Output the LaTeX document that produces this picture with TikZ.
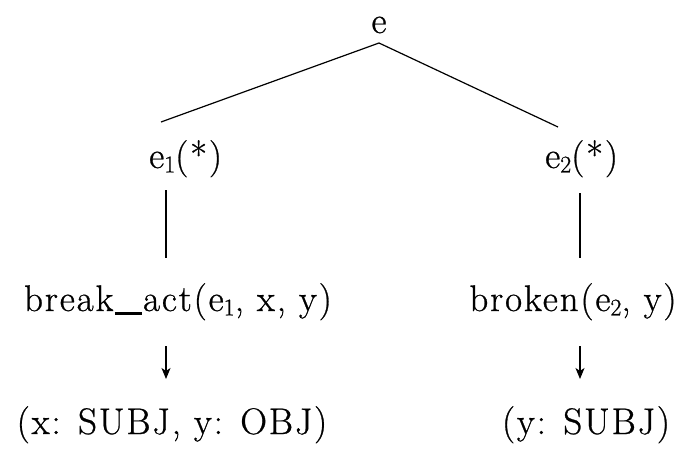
\documentclass[tikz,border=0pt]{standalone}
\usepackage{fontspec}
\setmainfont{Latin Modern Roman}[FakeBold=0.7,LetterSpace=5]
\usetikzlibrary{arrows.meta}
\newcommand{\sbs}[1]{\raisebox{-0.12em}{\fontsize{24}{24}\selectfont #1}}
\newcommand{\uscore}{\kern0.04em\rule[-0.1em]{0.72em}{0.06em}\kern0.04em}
\begin{document}
\begin{tikzpicture}[x=1pt,y=-1pt,
  lbl/.style={inner sep=0pt,font=\fontsize{37}{44}\selectfont},
  edge/.style={line width=1.2pt},
  darr/.style={line width=1.2pt,-{Stealth[length=11pt,width=9pt,inset=3pt]}}]
\useasboundingbox (0,0) rectangle (689,453);
\node[lbl,anchor=base] (e) at (379,33) {e};
\node[lbl,anchor=base west] (e1) at (149,168) {e\sbs{1}(*)};
\node[lbl,anchor=base west] (e2) at (545,168) {e\sbs{2}(*)};
\node[lbl,anchor=base] (brk) at (178,311) {break\uscore act(e\sbs{1}, x, y)};
\node[lbl,anchor=base] (brn) at (573,311) {broken(e\sbs{2}, y)};
\node[lbl,anchor=base] (s1) at (172,434) {(x: SUBJ, y: OBJ)};
\node[lbl,anchor=base] (s2) at (586,434) {(y: SUBJ)};
% tree edges
\coordinate (apex) at ([yshift=-10pt]e.base);
\draw[edge] ([shift={(12pt,46pt)}]e1.base west) -- (apex) -- ([shift={(13pt,41pt)}]e2.base west);
\coordinate (v1) at ([shift={(17pt,-22pt)}]e1.base west);
\coordinate (v2) at ([shift={(35pt,-25pt)}]e2.base west);
\coordinate (btop) at ([yshift=53pt]brk.base);
\draw[edge] (v1) -- (v1 |- btop);
\draw[edge] (v2) -- (v2 |- btop);
% arrows
\coordinate (a1) at ([yshift=-35pt]brk.base -| v1);
\coordinate (a2) at ([yshift=-35pt]brn.base -| v2);
\coordinate (b1) at ([yshift=55pt]s1.base);
\draw[darr] (a1) -- (a1 |- b1);
\draw[darr] (a2) -- (a2 |- b1);
\end{tikzpicture}
\end{document}
